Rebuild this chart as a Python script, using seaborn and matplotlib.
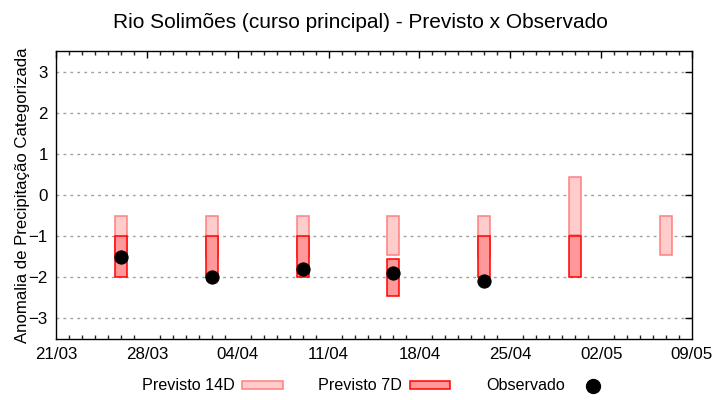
import pandas as pd
import numpy as np
import matplotlib
matplotlib.use("Agg")
import matplotlib.pyplot as plt
import matplotlib.dates as mdates
from matplotlib.patches import Patch
from matplotlib.lines import Line2D
import seaborn as sns

# Forecast dates (weekly)
dates = ["2025-03-26", "2025-04-02", "2025-04-09", "2025-04-16",
         "2025-04-23", "2025-04-30", "2025-05-07"]

# Previsto 14D (top / bottom of the category box)
p14_top = [-0.5, -0.5, -0.5, -0.5, -0.5, 0.43, -0.5]
p14_bot = [-1.5, -1.5, -1.5, -1.45, -1.5, -0.97, -1.45]

# Previsto 7D
p7_top = [-1.0, -1.0, -1.0, -1.55, -1.0, -1.0, np.nan]
p7_bot = [-2.0, -2.0, -2.0, -2.45, -2.0, -2.0, np.nan]

# Observado
obs = [-1.5, -2.0, -1.8, -1.9, -2.1, np.nan, np.nan]

df = pd.DataFrame({
    "data": pd.to_datetime(dates),
    "p14_top": p14_top, "p14_bot": p14_bot,
    "p7_top": p7_top, "p7_bot": p7_bot,
    "obs": obs,
})

sns.set_theme(style="white")
plt.rcParams["font.family"] = ["Liberation Sans", "DejaVu Sans"]
plt.rcParams["text.color"] = "black"
plt.rcParams["axes.labelcolor"] = "black"

fig = plt.figure(figsize=(7.2, 4.0), dpi=100)
ax = fig.add_axes([56 / 720, 61 / 400, 636 / 720, 288 / 400])

c14_face, c14_edge = "#ffcccc", "#ff7f7f"
c7_face, c7_edge = "#ff9999", "#ff0000"

ax.bar(df["data"], df["p14_top"] - df["p14_bot"], bottom=df["p14_bot"],
       width=0.92, color=c14_face, edgecolor=c14_edge, linewidth=1.1, zorder=2)
ax.bar(df["data"], df["p7_top"] - df["p7_bot"], bottom=df["p7_bot"],
       width=0.92, color=c7_face, edgecolor=c7_edge, linewidth=1.1, zorder=3)
sns.scatterplot(data=df.dropna(subset=["obs"]), x="data", y="obs", ax=ax,
                color="black", s=90, marker="o", edgecolor="black", zorder=4)

ax.set_xlim(pd.Timestamp("2025-03-21"), pd.Timestamp("2025-05-09"))
ax.set_ylim(-3.5, 3.5)
ax.set_yticks(range(-3, 4))
ax.set_xticks(pd.date_range("2025-03-21", "2025-05-09", freq="7D"))
ax.xaxis.set_minor_locator(mdates.DayLocator())
ax.xaxis.set_major_formatter(mdates.DateFormatter("%d/%m"))

ax.grid(axis="y", color="#a0a0a0", linestyle=(0, (2, 3)), linewidth=1, zorder=0)
ax.set_axisbelow(True)
for s in ax.spines.values():
    s.set_color("black")
    s.set_linewidth(1)
ax.tick_params(axis="both", which="major", direction="in", length=5, width=1,
               top=True, right=True, labelsize=12.2, colors="black", pad=6)
ax.tick_params(axis="x", which="minor", direction="in", length=3, width=1,
               top=True, bottom=True)
ax.set_xlabel("")
ax.set_ylabel("Anomalia de Precipitação Categorizada", fontsize=12.1, labelpad=-1)

fig.suptitle("Rio Solimões (curso principal) - Previsto x Observado",
             fontsize=15, y=0.945, va="center")

handles = [
    Patch(facecolor=c14_face, edgecolor=c14_edge, linewidth=1.1, label="Previsto 14D"),
    Patch(facecolor=c7_face, edgecolor=c7_edge, linewidth=1.1, label="Previsto 7D"),
    Line2D([], [], marker="o", color="black", linestyle="none", markersize=10,
           label="Observado"),
]
fig.legend(handles=handles, loc="center", bbox_to_anchor=(0.524, 0.035), ncol=3,
           frameon=False, markerfirst=False, fontsize=11.6, handlelength=2.5,
           handleheight=0.4, handletextpad=0.5, columnspacing=2.2)

fig.savefig("out.png", dpi=100)
